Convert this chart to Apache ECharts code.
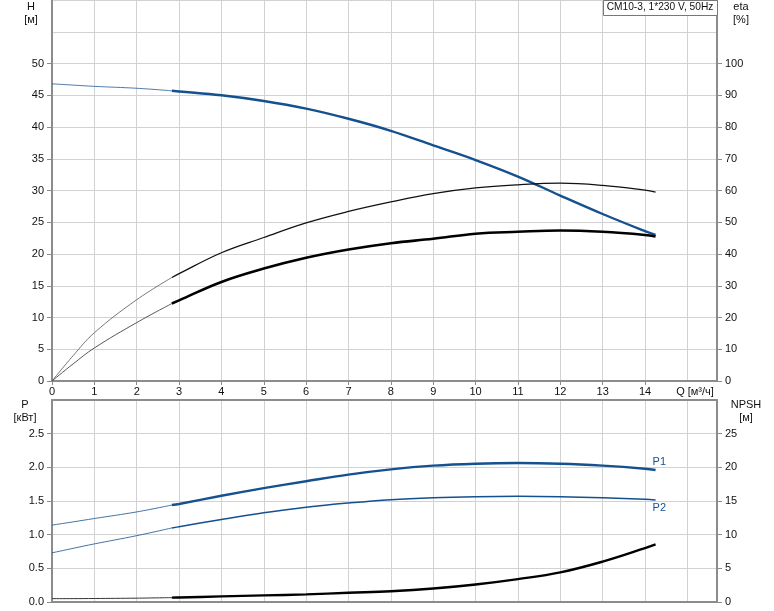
<!DOCTYPE html>
<html>
<head>
<meta charset="utf-8">
<script src="https://cdn.jsdelivr.net/npm/echarts@6/dist/echarts.min.js"></script>
<style>
html,body{margin:0;padding:0;background:#fff;}
#c{width:774px;height:611px;}
</style>
</head>
<body>
<div id="c"></div>
<script>
// ---- data ----
const Q      = [0, 0.5, 1, 2, 2.83, 3, 4, 5, 6, 7, 8, 9, 10, 11, 12, 13, 14, 14.25];
const H      = [46.8, 46.6, 46.4, 46.1, 45.7, 45.6, 45.0, 44.1, 42.9, 41.3, 39.4, 37.1, 34.8, 32.2, 29.2, 26.3, 23.6, 23.0];
const ETA1   = [0, 8, 15.2, 25.6, 32.6, 33.8, 40.4, 45.2, 49.8, 53.4, 56.4, 59, 60.8, 61.8, 62.3, 61.6, 60.1, 59.5];
const ETA2   = [0, 5.4, 10.4, 18.4, 24.4, 25.4, 31.2, 35.4, 38.8, 41.4, 43.4, 44.8, 46.4, 47, 47.4, 47, 46.0, 45.5];
const P1     = [1.142, 1.19, 1.24, 1.338, 1.44, 1.456, 1.578, 1.691, 1.794, 1.892, 1.97, 2.025, 2.054, 2.064, 2.054, 2.025, 1.98, 1.96];
const P2     = [0.73, 0.797, 0.863, 0.985, 1.10, 1.118, 1.225, 1.324, 1.407, 1.47, 1.52, 1.549, 1.564, 1.569, 1.564, 1.549, 1.525, 1.515];
const NPSH   = [0.5, 0.5, 0.52, 0.57, 0.65, 0.67, 0.83, 0.98, 1.13, 1.37, 1.6, 2.0, 2.6, 3.4, 4.4, 6.0, 8.0, 8.55];
const SPLIT  = 4; // index where the thin (extrapolated) part ends
const xTicks   = [0,1,2,3,4,5,6,7,8,9,10,11,12,13,14];
const hTicks   = [0,5,10,15,20,25,30,35,40,45,50];
const etaTicks = [0,10,20,30,40,50,60,70,80,90,100];
const pTicks   = [0,0.5,1,1.5,2,2.5];
const npTicks  = [0,5,10,15,20,25];
const TITLE = 'CM10-3, 1*230 V, 50Hz';

const QMAX = 15.7;
const BLUE = '#15508f';
const FONT = '"Liberation Sans", Arial, sans-serif';
const GRIDC = '#d2d2d2';
const AXC = '#8c8c8c';

function pts(v, a, b) { const r = []; for (let i = a; i <= b; i++) r.push([Q[i], v[i]]); return r; }
const last = Q.length - 1;

function line(name, xi, yi, data, color, width, extra) {
  return Object.assign({
    name, type: 'line', xAxisIndex: xi, yAxisIndex: yi, data,
    symbol: 'none', smooth: 0.4,
    lineStyle: { color, width }, silent: true, animation: false, z: 5
  }, extra || {});
}

const lbl = { fontFamily: FONT, fontSize: 11, color: '#111' };
const chart = echarts.init(document.getElementById('c'), null, { renderer: 'canvas' });
chart.setOption({
  animation: false,
  grid: [
    { left: 52, right: 57, top: 0, height: 381, show: false },
    { left: 52, right: 57, top: 400, height: 202, show: false }
  ],
  xAxis: [
    { gridIndex: 0, type: 'value', min: 0, max: QMAX, interval: 1,
      axisLine: { show: true, onZero: false, lineStyle: { color: AXC, width: 2 } },
      axisTick: { show: true, length: 4, customValues: xTicks, lineStyle: { color: AXC } },
      axisLabel: Object.assign({ customValues: xTicks, margin: 5 }, lbl),
      splitLine: { show: false } },
    { gridIndex: 0, type: 'value', min: 0, max: QMAX, interval: 1,
      axisLine: { show: false }, axisTick: { show: false }, axisLabel: { show: false },
      splitLine: { show: true, lineStyle: { color: GRIDC, width: 1 } } },
    { gridIndex: 1, type: 'value', min: 0, max: QMAX, interval: 1,
      axisLine: { show: true, onZero: false, lineStyle: { color: AXC, width: 2 } },
      axisTick: { show: false }, axisLabel: { show: false }, splitLine: { show: false } },
    { gridIndex: 1, type: 'value', min: 0, max: QMAX, interval: 1, position: 'top',
      axisLine: { show: true, onZero: false, lineStyle: { color: AXC, width: 2 } },
      axisTick: { show: false }, axisLabel: { show: false },
      splitLine: { show: true, lineStyle: { color: GRIDC, width: 1 } } }
  ],
  yAxis: [
    { gridIndex: 0, type: 'value', position: 'left', min: 0, max: 60, interval: 5,
      axisLine: { show: true, onZero: false, lineStyle: { color: AXC, width: 2 } },
      axisTick: { show: true, length: 5, customValues: hTicks, lineStyle: { color: AXC } },
      axisLabel: Object.assign({ customValues: hTicks, margin: 8 }, lbl),
      splitLine: { show: false } },
    { gridIndex: 0, type: 'value', position: 'right', min: 0, max: 120, interval: 10,
      axisLine: { show: true, onZero: false, lineStyle: { color: AXC, width: 2 } },
      axisTick: { show: true, length: 5, customValues: etaTicks, lineStyle: { color: AXC } },
      axisLabel: Object.assign({ customValues: etaTicks, margin: 8 }, lbl),
      splitLine: { show: false } },
    { gridIndex: 0, type: 'value', position: 'left', min: 0, max: 60, interval: 5,
      axisLine: { show: false }, axisTick: { show: false }, axisLabel: { show: false },
      splitLine: { show: true, lineStyle: { color: GRIDC, width: 1 } } },
    { gridIndex: 1, type: 'value', position: 'left', min: 0, max: 3, interval: 0.5,
      axisLine: { show: true, onZero: false, lineStyle: { color: AXC, width: 2 } },
      axisTick: { show: true, length: 5, customValues: pTicks, lineStyle: { color: AXC } },
      axisLabel: Object.assign({ customValues: pTicks, margin: 8, formatter: v => v.toFixed(1) }, lbl),
      splitLine: { show: false } },
    { gridIndex: 1, type: 'value', position: 'right', min: 0, max: 30, interval: 5,
      axisLine: { show: true, onZero: false, lineStyle: { color: AXC, width: 2 } },
      axisTick: { show: true, length: 5, customValues: npTicks, lineStyle: { color: AXC } },
      axisLabel: Object.assign({ customValues: npTicks, margin: 8 }, lbl),
      splitLine: { show: false } },
    { gridIndex: 1, type: 'value', position: 'left', min: 0, max: 3, interval: 0.5,
      axisLine: { show: false }, axisTick: { show: false }, axisLabel: { show: false },
      splitLine: { show: true, lineStyle: { color: GRIDC, width: 1 } } }
  ],
  series: [
    line('H-thin', 0, 0, pts(H, 0, SPLIT), BLUE, 1, { lineStyle: { color: BLUE, width: 1, opacity: 0.75 } }),
    line('H', 0, 0, pts(H, SPLIT, last), BLUE, 2.4),
    line('eta1-thin', 0, 1, pts(ETA1, 0, SPLIT), '#555', 0.8),
    line('eta1', 0, 1, pts(ETA1, SPLIT, last), '#111', 1.3),
    line('eta2-thin', 0, 1, pts(ETA2, 0, SPLIT), '#444', 0.9),
    line('eta2', 0, 1, pts(ETA2, SPLIT, last), '#000', 2.6),
    line('P1-thin', 2, 3, pts(P1, 0, SPLIT), BLUE, 1, { lineStyle: { color: BLUE, width: 1, opacity: 0.8 } }),
    line('P1', 2, 3, pts(P1, SPLIT, last), BLUE, 2.4, {
      endLabel: { show: true, formatter: 'P1', color: BLUE, fontFamily: FONT, fontSize: 11, offset: [-11, -8] } }),
    line('P2-thin', 2, 3, pts(P2, 0, SPLIT), BLUE, 1, { lineStyle: { color: BLUE, width: 1, opacity: 0.8 } }),
    line('P2', 2, 3, pts(P2, SPLIT, last), BLUE, 1.5, {
      endLabel: { show: true, formatter: 'P2', color: BLUE, fontFamily: FONT, fontSize: 11, offset: [-11, 8] } }),
    line('NPSH-thin', 2, 4, pts(NPSH, 0, SPLIT), '#333', 1),
    line('NPSH', 2, 4, pts(NPSH, SPLIT, last), '#000', 2.4)
  ],
  graphic: [
    { type: 'text', x: 31, y: 0, style: { text: 'H\n[м]', font: '11px ' + FONT, fill: '#111', textAlign: 'center', lineHeight: 13 } },
    { type: 'text', x: 741, y: 0, style: { text: 'eta\n[%]', font: '11px ' + FONT, fill: '#111', textAlign: 'center', lineHeight: 13 } },
    { type: 'text', x: 25, y: 398, style: { text: 'P\n[кВт]', font: '11px ' + FONT, fill: '#111', textAlign: 'center', lineHeight: 13 } },
    { type: 'text', x: 746, y: 398, style: { text: 'NPSH\n[м]', font: '11px ' + FONT, fill: '#111', textAlign: 'center', lineHeight: 13 } },
    { type: 'text', x: 695, y: 386, style: { text: 'Q [м³/ч]', font: '11px ' + FONT, fill: '#111', textAlign: 'center' } },
    { type: 'rect', shape: { x: 603.5, y: 0.5, width: 114, height: 15 }, style: { fill: '#fff', stroke: '#777', lineWidth: 1 }, z: 10 },
    { type: 'text', x: 660, y: 2.5, z: 11, style: { text: TITLE, font: '10.2px ' + FONT, fill: '#111', textAlign: 'center' } }
  ]
});
</script>
</body>
</html>
